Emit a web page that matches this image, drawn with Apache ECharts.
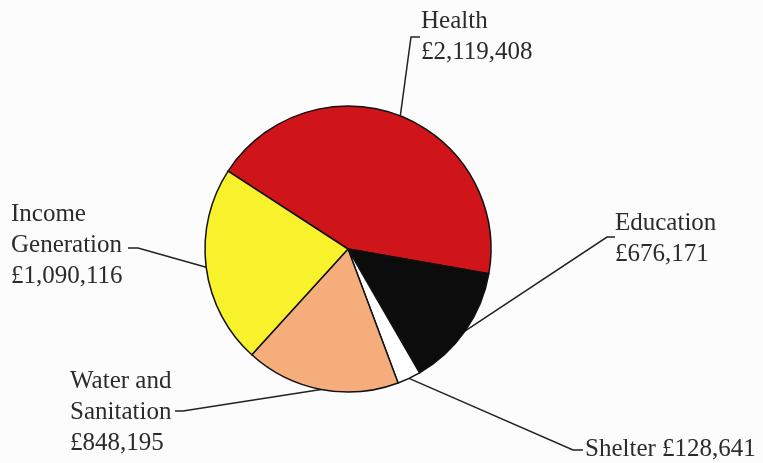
<!DOCTYPE html>
<html>
<head>
<meta charset="utf-8">
<script src="https://cdn.jsdelivr.net/npm/echarts@6/dist/echarts.min.js"></script>
<style>
html, body { margin: 0; padding: 0; background: #fcfcfc; }
#main { width: 763px; height: 463px; }
</style>
</head>
<body>
<div id="main"></div>
<script>
var myChart = echarts.init(document.getElementById('main'));

// 数据
var categories = ['Health', 'Education', 'Shelter', 'Water and Sanitation', 'Income Generation'];
var labelText = ['Health\n', 'Education\n', 'Shelter ', 'Water and\nSanitation\n', 'Income\nGeneration\n'];
var values = [2119408, 676171, 128641, 848195, 1090116];
var colors = ['#cf1519', '#0c0c0c', '#ffffff', '#f5ae7b', '#f8f22c'];

// label placement: top-left of text block, and the bend/end of its leader line
var labelPos = [
    { x: 421, y: 6, line: [[411, 37], [420, 37]] },
    { x: 615, y: 208, line: [[607, 237], [615, 237]] },
    { x: 585, y: 434, line: [[573, 450], [583, 450]] },
    { x: 70, y: 366, line: [[183, 411], [175, 411]] },
    { x: 11, y: 199, line: [[138, 248], [128, 248]] }
];

function money(v) {
    return '£' + v.toString().replace(/\B(?=(\d{3})+(?!\d))/g, ',');
}

var option = {
    backgroundColor: '#fcfcfc',
    animation: false,
    series: [{
        type: 'pie',
        center: [348, 249],
        radius: 143,
        startAngle: 147,
        clockwise: true,
        avoidLabelOverlap: false,
        data: categories.map(function (c, i) {
            return { name: c, value: values[i], itemStyle: { color: colors[i] } };
        }),
        itemStyle: { borderColor: '#111', borderWidth: 1.5 },
        label: {
            show: true,
            position: 'outside',
            formatter: function (p) {
                return labelText[p.dataIndex] + money(p.value);
            },
            fontFamily: 'Liberation Serif',
            fontSize: 25,
            lineHeight: 31,
            color: '#2b2b2b',
            align: 'left'
        },
        labelLine: {
            show: true,
            length: 20,
            length2: 10,
            lineStyle: { color: '#222', width: 1.5 }
        },
        labelLayout: function (params) {
            var lp = labelPos[params.dataIndex];
            var pts = params.labelLinePoints;
            var start = pts ? pts[0] : lp.line[0];
            return {
                x: lp.x,
                y: lp.y,
                align: 'left',
                verticalAlign: 'top',
                labelLinePoints: [start, lp.line[0], lp.line[1]]
            };
        },
        emphasis: { disabled: true }
    }]
};

myChart.setOption(option);
</script>
</body>
</html>
